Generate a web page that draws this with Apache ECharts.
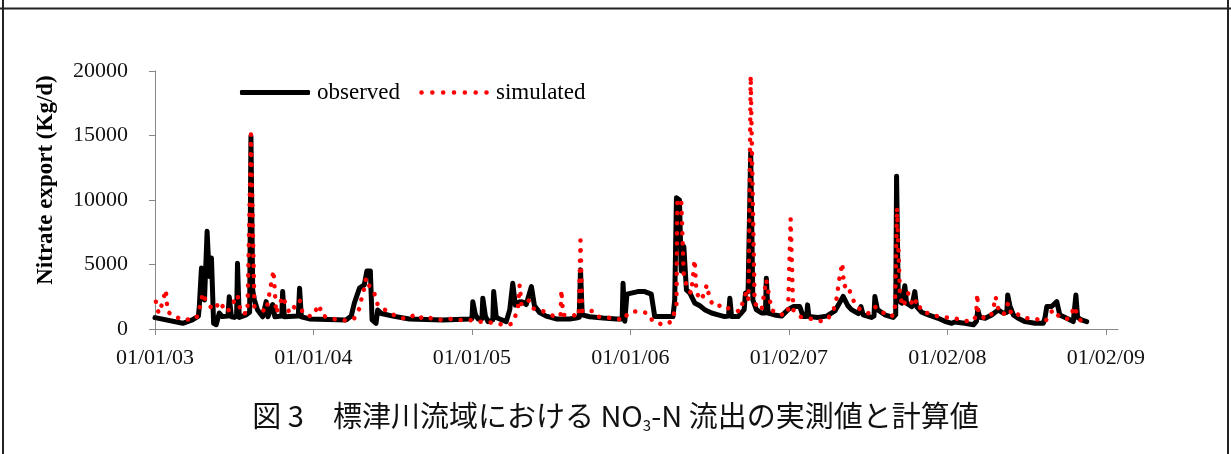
<!DOCTYPE html>
<html>
<head>
<meta charset="utf-8">
<script src="https://cdn.jsdelivr.net/npm/echarts@6.0.0/dist/echarts.min.js"></script>
<style>
    html, body { margin: 0; padding: 0; background: #fff; }
    #root { width: 1231px; height: 454px; }
</style>
</head>
<body>
<div id="root"></div>
<script>
// days since the first day of the record
const xTickDays = [0, 365, 730, 1095, 1460, 1825, 2190]
const xTickLabels = ['01/01/03', '01/01/04', '01/01/05', '01/01/06', '01/02/07', '01/02/08', '01/02/09']
const yTicks = [0, 5000, 10000, 15000, 20000]

const observedDays = [
    0, 64, 86, 100, 102, 107, 114, 120, 125, 130, 135, 141, 148, 155, 168, 171, 176, 183, 188, 190,
    194, 210, 218, 221, 225, 229, 236, 248, 256, 260, 271, 276, 292, 294, 298, 330, 333, 337, 356, 440,
    452, 459, 471, 482, 488, 496, 500, 509, 513, 521, 548, 586, 663, 724, 730, 732, 738, 744, 753, 755,
    761, 767, 778, 780, 786, 794, 809, 817, 824, 830, 840, 847, 855, 867, 874, 886, 901, 924, 955, 970,
    977, 980, 984, 1001, 1032, 1063, 1076, 1078, 1082, 1087, 1097, 1112, 1128, 1143, 1151, 1193, 1197, 1201, 1208, 1212,
    1218, 1224, 1232, 1243, 1255, 1266, 1282, 1297, 1312, 1321, 1324, 1328, 1343, 1357, 1360, 1366, 1372, 1377, 1385, 1397,
    1406, 1408, 1412, 1427, 1443, 1458, 1470, 1485, 1493, 1501, 1503, 1506, 1527, 1547, 1566, 1585, 1596, 1604, 1620, 1624,
    1626, 1631, 1650, 1656, 1658, 1664, 1681, 1700, 1706, 1708, 1712, 1720, 1727, 1731, 1743, 1750, 1754, 1766, 1781, 1804,
    1819, 1835, 1842, 1865, 1885, 1892, 1895, 1900, 1912, 1927, 1942, 1954, 1962, 1964, 1969, 1977, 1988, 2004, 2027, 2046,
    2050, 2054, 2065, 2077, 2084, 2100, 2115, 2119, 2121, 2125, 2134, 2146
]
const observed = [
    880, 440, 700, 1000, 1735, 4720, 2250, 7570, 4070, 5500, 440, 330, 1240, 960, 1000, 2500, 950, 900, 1000, 5100,
    900, 1100, 1300, 14960, 3000, 2250, 1500, 950, 2120, 950, 1900, 950, 1000, 2900, 950, 1000, 3160, 950, 780, 700,
    1000, 2000, 3170, 3420, 4500, 4500, 700, 440, 1480, 1200, 1000, 780, 700, 780, 800, 2120, 1100, 780, 800, 2390,
    1000, 570, 700, 2900, 900, 780, 570, 1480, 3550, 1850, 2120, 2100, 1900, 3290, 1800, 1270, 1000, 780, 780, 850,
    900, 4590, 1100, 950, 850, 780, 800, 3550, 600, 2700, 2780, 2900, 2900, 2700, 960, 960, 2250, 10170, 10000, 4500,
    6400, 3030, 2780, 2020, 1800, 1500, 1240, 1100, 960, 1000, 2380, 960, 960, 1500, 2780, 2900, 13670, 2250, 1500, 1240,
    1240, 3940, 1240, 1090, 1000, 1500, 1740, 1740, 960, 960, 1870, 960, 900, 1000, 1400, 2520, 1800, 1500, 1200, 1200,
    1740, 1100, 900, 1000, 2520, 1500, 1100, 900, 1100, 11850, 2250, 2000, 3350, 2000, 1740, 2900, 1740, 1300, 1100, 830,
    600, 440, 550, 440, 330, 600, 1480, 900, 830, 1090, 1480, 1220, 1300, 2640, 1800, 1090, 830, 570, 440, 440,
    900, 1740, 1740, 2120, 1090, 830, 570, 700, 2640, 900, 700, 570
]

const simulatedDays = [
    2, 5, 10, 25, 29, 44, 68, 95, 102, 110, 118, 125, 133, 152, 160, 171, 190, 198, 213, 221,
    229, 256, 273, 279, 294, 310, 333, 340, 360, 379, 383, 402, 425, 444, 459, 471, 475, 482, 486, 492,
    498, 505, 513, 521, 536, 556, 579, 598, 609, 621, 640, 663, 682, 701, 724, 740, 763, 790, 809, 821,
    828, 836, 840, 844, 851, 859, 867, 870, 886, 905, 920, 934, 936, 940, 963, 976, 980, 984, 1009, 1020,
    1040, 1063, 1080, 1089, 1105, 1120, 1135, 1147, 1158, 1172, 1189, 1201, 1203, 1212, 1218, 1228, 1235, 1243, 1247, 1259,
    1271, 1278, 1289, 1311, 1320, 1335, 1347, 1362, 1367, 1372, 1381, 1397, 1408, 1420, 1439, 1458, 1464, 1470, 1485, 1504,
    1524, 1539, 1550, 1562, 1570, 1577, 1583, 1587, 1596, 1604, 1616, 1631, 1643, 1658, 1670, 1681, 1696, 1704, 1709, 1716,
    1723, 1735, 1746, 1754, 1766, 1781, 1800, 1819, 1842, 1862, 1881, 1891, 1894, 1896, 1912, 1929, 1936, 1942, 1954, 1965,
    1973, 1985, 2004, 2023, 2038, 2050, 2058, 2065, 2073, 2079, 2088, 2104, 2119, 2123, 2134, 2146
]
const simulated = [
    2120, 1500, 1220, 3030, 1350, 960, 700, 830, 1480, 2780, 2120, 1870, 1480, 2120, 1350, 1480, 2640, 1220, 1220, 15090,
    1740, 1350, 4540, 1220, 2520, 1220, 2250, 1220, 960, 1870, 1090, 830, 700, 650, 830, 1600, 2250, 3170, 3950, 3420,
    3170, 2780, 1870, 1600, 1400, 960, 780, 1090, 830, 1000, 780, 700, 780, 700, 700, 570, 570, 390, 310, 390,
    830, 1600, 3420, 1870, 2000, 2250, 2000, 1600, 1480, 1220, 960, 1000, 3030, 1090, 1090, 960, 6870, 1350, 1400, 960,
    900, 780, 700, 1220, 1350, 1350, 1220, 570, 470, 310, 570, 1740, 10040, 9960, 4070, 3030, 2780, 5370, 2780, 2250,
    3420, 2250, 1740, 1870, 1610, 1480, 1350, 2900, 2250, 19620, 1990, 1480, 3810, 1480, 1090, 1220, 8530, 1480, 960, 830,
    700, 570, 830, 1350, 2380, 4070, 5110, 3290, 3420, 2520, 1740, 1350, 1220, 1740, 1350, 1220, 960, 1220, 9390, 2520,
    1740, 2780, 1740, 2250, 1350, 1220, 1000, 900, 830, 650, 570, 960, 2720, 1220, 780, 1220, 2520, 1610, 1090, 2000,
    1090, 1170, 830, 830, 700, 570, 960, 1350, 1480, 1090, 830, 780, 1740, 1090, 570, 700
]

const pairs = (xs, ys) => xs.map((x, i) => [x, ys[i]])

// legend swatch for the dotted series: seven round dots in a 70 x 5 box
let dots = ''
for (let k = 0; k < 7; k++) {
    const cx = 2.5 + k * 10.83
    dots += 'M' + (cx - 2.3) + ',2.5a2.3,2.3 0 1,0 4.6,0a2.3,2.3 0 1,0 -4.6,0'
}
dots += 'M0,0M70,5'

const serif = "'Liberation Serif', 'Times New Roman', serif"
const chart = echarts.init(document.getElementById('root'), null, { renderer: 'canvas' })

const option = {
    backgroundColor: '#fff',
    animation: false,
    title: {
        left: 'center',
        top: 394,
        text: '{n|図 3　標津川流域における NO}{s|3}{n|-N 流出の実測値と計算値}',
        textStyle: {
            fontWeight: 'normal',
            rich: {
                n: { fontFamily: "'Noto Sans CJK JP'", fontSize: 29, fontWeight: 'normal', lineHeight: 34, color: '#111' },
                s: { fontFamily: "'Noto Sans CJK JP'", fontSize: 15, fontWeight: 'normal', lineHeight: 15, color: '#111', verticalAlign: 'bottom' }
            }
        }
    },
    legend: {
        left: 240,
        top: 81,
        padding: 0,
        itemWidth: 70,
        itemHeight: 5,
        itemGap: 19,
        textStyle: { fontFamily: serif, fontSize: 23, color: '#000', padding: [0, 0, 0, 2] },
        data: [
            { name: 'observed', icon: 'roundRect', itemStyle: { color: '#000' } },
            { name: 'simulated', icon: 'path://' + dots, itemStyle: { color: '#ff0000' } }
        ]
    },
    grid: { left: 155, right: 113, top: 71, bottom: 125 },
    xAxis: {
        type: 'value',
        min: 0,
        max: 2218,
        splitLine: { show: false },
        axisLine: { lineStyle: { color: '#888', width: 1 } },
        axisTick: { customValues: xTickDays, length: 6, lineStyle: { color: '#888' } },
        axisLabel: {
            customValues: xTickDays,
            margin: 18,
            fontFamily: serif,
            fontSize: 22,
            color: '#111',
            formatter: (v) => xTickLabels[xTickDays.indexOf(v)]
        }
    },
    yAxis: {
        type: 'value',
        min: yTicks[0],
        max: yTicks[yTicks.length - 1],
        interval: 5000,
        name: 'Nitrate export (Kg/d)',
        nameLocation: 'middle',
        nameGap: 97,
        nameTextStyle: { fontFamily: serif, fontSize: 23, fontWeight: 'bold', color: '#000', padding: [0, 0, 0, 40] },
        splitLine: { show: false },
        axisLine: { show: true, lineStyle: { color: '#888', width: 1 } },
        axisTick: { show: true, length: 6, lineStyle: { color: '#888' } },
        axisLabel: { margin: 27, fontFamily: serif, fontSize: 22, color: '#111', formatter: (v) => String(v) }
    },
    series: [
        {
            name: 'observed',
            type: 'line',
            symbol: 'none',
            data: pairs(observedDays, observed),
            lineStyle: { color: '#000', width: 5, join: 'round', cap: 'round' },
            itemStyle: { color: '#000' },
            z: 2
        },
        {
            name: 'simulated',
            type: 'line',
            symbol: 'none',
            data: pairs(simulatedDays, simulated),
            lineStyle: { color: '#ff0000', width: 4.5, type: [0.1, 10], cap: 'round', join: 'round' },
            itemStyle: { color: '#ff0000' },
            z: 3
        }
    ],
    graphic: [
        { type: 'line', shape: { x1: 0, y1: 8.5, x2: 1231, y2: 8.5 }, style: { stroke: '#222', lineWidth: 2 } },
        { type: 'line', shape: { x1: 3, y1: 0, x2: 3, y2: 454 }, style: { stroke: '#222', lineWidth: 2 } },
        { type: 'line', shape: { x1: 1228, y1: 0, x2: 1228, y2: 454 }, style: { stroke: '#222', lineWidth: 2 } }
    ]
}
chart.setOption(option)
</script>
</body>
</html>
